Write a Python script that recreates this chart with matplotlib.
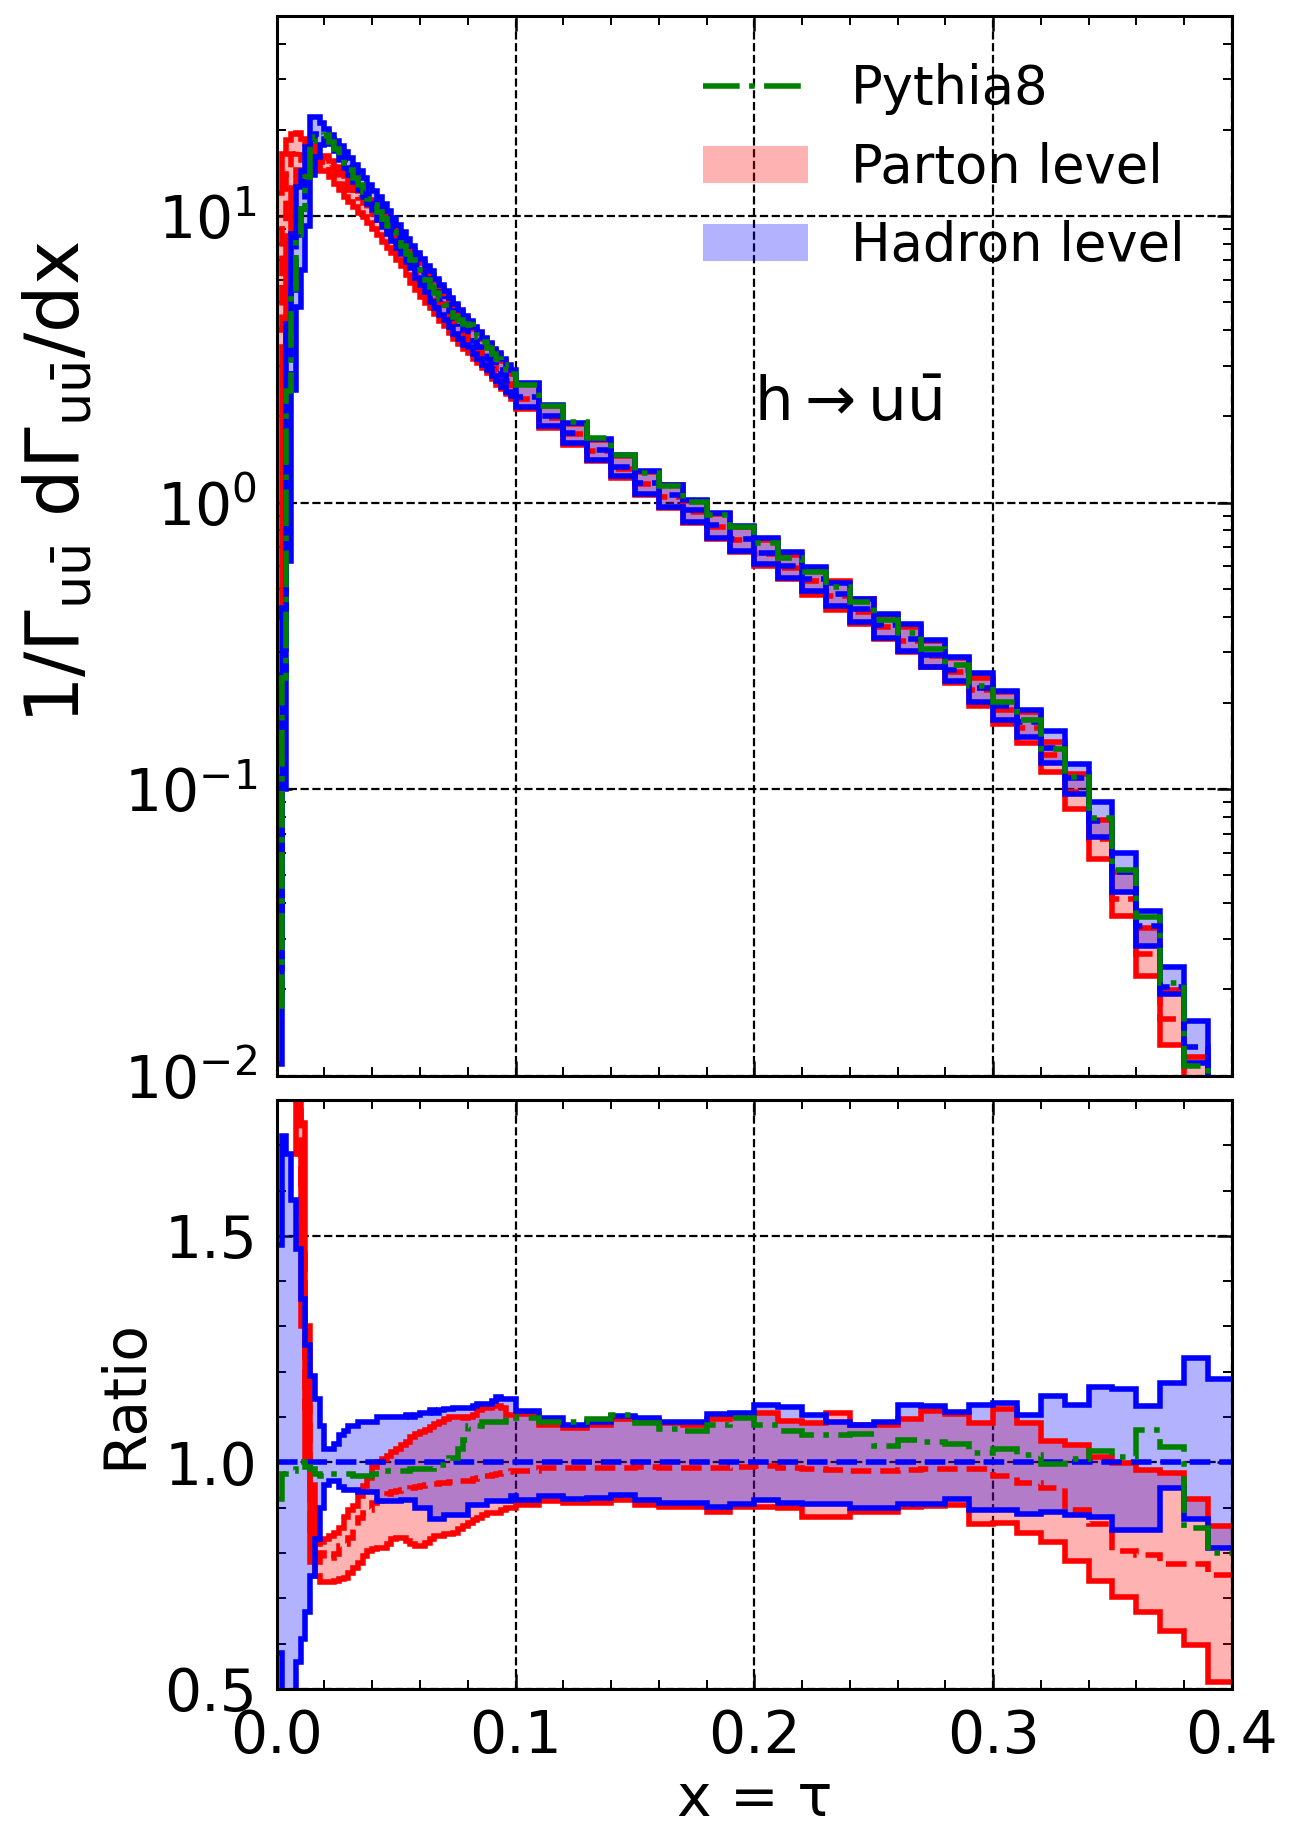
import numpy as np
import matplotlib.pyplot as plt
from matplotlib.ticker import MultipleLocator
from matplotlib.patches import Patch
from matplotlib.lines import Line2D

# bins: 0.002 wide up to 0.1, then 0.01 wide up to 0.4
edges = np.concatenate([np.linspace(0.0, 0.1, 51), np.linspace(0.11, 0.4, 30)])

# hadron level central value, 1/G dG/dx
hadron = np.array([
    0.019, 0.25, 2.5, 5.5, 8.6, 10.6, 13.8, 18.6, 19.4, 19.6,
    19.6, 18.6, 17.6, 16.6, 15.7, 14.8, 14.0, 13.2, 12.5, 11.8,
    11.2, 10.6, 10.0, 9.45, 8.95, 8.45, 8.0, 7.55, 7.15, 6.75,
    6.4, 6.05, 5.75, 5.45, 5.15, 4.9, 4.65, 4.4, 4.2, 4.0,
    3.85, 3.65, 3.5, 3.33, 3.18, 3.03, 2.9, 2.78, 2.66, 2.55,
    2.34, 2.0, 1.75, 1.53, 1.33, 1.17, 1.06, 0.94, 0.835, 0.747,
    0.666, 0.60, 0.54, 0.48, 0.425, 0.375, 0.335, 0.295, 0.26, 0.225,
    0.195, 0.171, 0.139, 0.109, 0.0774, 0.0516, 0.0334, 0.0204, 0.0126, 0.006])

# everything else as ratio to the hadron central value
hadron_hi_ratio = np.array([
    1.48, 1.72, 1.68, 1.58, 1.47, 1.36, 1.26, 1.19, 1.14, 1.08,
    1.03, 1.03, 1.04, 1.06, 1.07, 1.08, 1.08, 1.09, 1.09, 1.09,
    1.09, 1.10, 1.10, 1.10, 1.10, 1.10, 1.10, 1.105, 1.10, 1.105,
    1.11, 1.11, 1.115, 1.11, 1.115, 1.117, 1.117, 1.12, 1.12, 1.12,
    1.12, 1.125, 1.13, 1.13, 1.13, 1.135, 1.145, 1.14, 1.14, 1.14,
    1.114, 1.098, 1.082, 1.09, 1.102, 1.098, 1.09, 1.09, 1.106, 1.11,
    1.127, 1.123, 1.104, 1.09, 1.082, 1.09, 1.127, 1.125, 1.112, 1.127,
    1.131, 1.104, 1.147, 1.127, 1.167, 1.163, 1.124, 1.175, 1.231, 1.183])

hadron_lo_ratio = np.array([
    0.58, 0.40, 0.25, 0.45, 0.56, 0.61, 0.67, 0.75, 0.83, 0.90,
    0.95, 0.96, 0.96, 0.945, 0.94, 0.94, 0.94, 0.935, 0.935, 0.935,
    0.935, 0.915, 0.915, 0.915, 0.915, 0.915, 0.918, 0.918, 0.918, 0.90,
    0.90, 0.90, 0.875, 0.875, 0.875, 0.884, 0.884, 0.884, 0.884, 0.884,
    0.905, 0.905, 0.905, 0.905, 0.914, 0.914, 0.914, 0.914, 0.914, 0.926,
    0.918, 0.926, 0.92, 0.922, 0.929, 0.918, 0.91, 0.91, 0.902, 0.908,
    0.918, 0.91, 0.908, 0.908, 0.90, 0.90, 0.908, 0.908, 0.92, 0.894,
    0.894, 0.886, 0.89, 0.885, 0.88, 0.85, 0.85, 0.943, 0.876, 0.81])

parton_hi_ratio = np.array([
    632.0, 66.0, 7.4, 3.53, 2.26, 1.75, 1.30, 0.95, 0.82, 0.825,
    0.83, 0.837, 0.845, 0.856, 0.88, 0.895, 0.904, 0.926, 0.948, 0.965,
    0.99, 1.0, 1.007, 1.015, 1.022, 1.03, 1.038, 1.045, 1.055, 1.063,
    1.068, 1.072, 1.079, 1.085, 1.09, 1.095, 1.10, 1.10, 1.10, 1.098,
    1.10, 1.105, 1.115, 1.121, 1.121, 1.125, 1.125, 1.12, 1.104, 1.104,
    1.106, 1.083, 1.076, 1.082, 1.096, 1.094, 1.087, 1.082, 1.096, 1.102,
    1.109, 1.092, 1.086, 1.109, 1.082, 1.082, 1.096, 1.114, 1.106, 1.086,
    1.117, 1.086, 1.047, 1.039, 1.012, 0.998, 0.983, 0.976, 0.919, 0.86])

parton_ratio = np.array([
    210.0, 38.0, 5.6, 3.0, 1.98, 1.48, 1.12, 0.85, 0.78, 0.80,
    0.786, 0.79, 0.797, 0.815, 0.82, 0.834, 0.86, 0.878, 0.889, 0.895,
    0.911, 0.915, 0.922, 0.93, 0.935, 0.937, 0.94, 0.94, 0.943, 0.945,
    0.948, 0.95, 0.952, 0.952, 0.955, 0.955, 0.957, 0.958, 0.96, 0.96,
    0.96, 0.963, 0.966, 0.969, 0.97, 0.972, 0.975, 0.977, 0.978, 0.98,
    0.981, 0.988, 0.988, 0.988, 0.988, 0.989, 0.988, 0.988, 0.988, 0.989,
    0.992, 0.988, 0.986, 0.984, 0.98, 0.981, 0.984, 0.986, 0.986, 0.986,
    0.971, 0.955, 0.943, 0.894, 0.865, 0.804, 0.796, 0.775, 0.775, 0.751])

parton_lo_ratio = np.array([
    21.0, 14.0, 3.4, 2.27, 1.68, 1.30, 1.00, 0.78, 0.75, 0.735,
    0.735, 0.735, 0.738, 0.742, 0.745, 0.756, 0.767, 0.778, 0.793, 0.804,
    0.808, 0.812, 0.812, 0.819, 0.83, 0.834, 0.834, 0.826, 0.82, 0.815,
    0.815, 0.823, 0.83, 0.837, 0.837, 0.841, 0.841, 0.845, 0.852, 0.86,
    0.867, 0.872, 0.878, 0.885, 0.889, 0.889, 0.889, 0.895, 0.90, 0.90,
    0.906, 0.914, 0.91, 0.91, 0.918, 0.906, 0.902, 0.902, 0.891, 0.902,
    0.902, 0.90, 0.88, 0.88, 0.89, 0.89, 0.902, 0.904, 0.906, 0.865,
    0.866, 0.845, 0.824, 0.783, 0.739, 0.702, 0.669, 0.628, 0.596, 0.516])

pythia_ratio = np.array([
    0.92, 0.975, 0.98, 0.98, 1.0, 1.0, 0.99, 0.985, 0.975, 0.97,
    0.975, 0.975, 0.975, 0.975, 0.975, 0.975, 0.97, 0.97, 0.97, 0.97,
    0.975, 0.975, 0.98, 0.98, 0.98, 0.98, 0.98, 0.98, 0.985, 0.985,
    0.985, 0.985, 0.985, 0.99, 0.995, 0.995, 1.01, 1.01, 1.03, 1.05,
    1.08, 1.08, 1.08, 1.09, 1.09, 1.09, 1.09, 1.09, 1.10, 1.10,
    1.098, 1.09, 1.09, 1.096, 1.104, 1.086, 1.074, 1.07, 1.082, 1.098,
    1.082, 1.07, 1.061, 1.061, 1.063, 1.037, 1.049, 1.045, 1.041, 1.02,
    1.03, 1.016, 0.996, 1.008, 1.025, 1.012, 1.072, 1.035, 0.855, 0.80])

LW = 2.0
FS = 21
DASHDOT = (0, (6.6, 1.7, 1.0, 1.7))

plt.rcParams['mathtext.default'] = 'regular'

fig = plt.figure(figsize=(6.46, 9.18), dpi=200)
ax1 = fig.add_axes([0.2142, 0.4141, 0.7392, 0.5773])
ax2 = fig.add_axes([0.2142, 0.0801, 0.7392, 0.3208])


def draw_fills(ax, lo, hi, color):
    ax.stairs(hi, edges, baseline=lo, fill=True, facecolor=color,
              edgecolor='none', alpha=0.3, lw=0)


def draw_lines(ax, lo, mid, hi, color):
    ax.stairs(lo, edges, baseline=None, color=color, lw=LW)
    ax.stairs(hi, edges, baseline=None, color=color, lw=LW)
    ax.stairs(mid, edges, baseline=None, color=color, lw=LW, ls='--')


bands_top = [(hadron * parton_lo_ratio, hadron * parton_ratio,
              hadron * parton_hi_ratio, 'red'),
             (hadron * hadron_lo_ratio, hadron,
              hadron * hadron_hi_ratio, 'blue')]
bands_ratio = [(parton_lo_ratio, parton_ratio, parton_hi_ratio, 'red'),
               (hadron_lo_ratio, hadron / hadron, hadron_hi_ratio, 'blue')]

for ax, bands, py in [(ax1, bands_top, hadron * pythia_ratio),
                      (ax2, bands_ratio, pythia_ratio)]:
    for lo, mid, hi, c in bands:
        draw_fills(ax, lo, hi, c)
    for lo, mid, hi, c in bands:
        draw_lines(ax, lo, mid, hi, c)
    ax.stairs(py, edges, baseline=None, color='green', lw=LW, ls=DASHDOT)

ax1.set_yscale('log')
ax1.set_ylim(1e-2, 50)
ax2.set_ylim(0.5, 1.8)
ax2.yaxis.set_major_locator(MultipleLocator(0.5))
ax2.yaxis.set_minor_locator(MultipleLocator(0.1))

for ax in (ax1, ax2):
    ax.set_xlim(0, 0.4)
    ax.xaxis.set_major_locator(MultipleLocator(0.1))
    ax.xaxis.set_minor_locator(MultipleLocator(0.02))
    ax.tick_params(which='both', direction='in', top=True, right=True,
                   labelsize=FS, pad=7)
    ax.tick_params(which='major', length=5.4, width=0.9)
    ax.tick_params(which='minor', length=3.4, width=0.7)
    for sp in ax.spines.values():
        sp.set_linewidth(1.1)
    ax.set_axisbelow(True)
    ax.grid(True, which='major', color='k', ls='--', lw=0.8)

ax1.tick_params(labelbottom=False)

ax1.set_ylabel(r'1/$\Gamma_{u\bar{u}}$ d$\Gamma_{u\bar{u}}$/dx', fontsize=27)
ax1.yaxis.set_label_coords(-0.19, 0.56)
ax2.set_ylabel('Ratio', fontsize=FS)
ax2.set_xlabel('x = τ', fontsize=FS, labelpad=2)

ax1.text(0.2, 1.92, r'h$\rightarrow$u$\bar{u}$', fontsize=22)

handles = [Line2D([], [], color='green', lw=LW, ls=DASHDOT),
           Patch(facecolor='red', alpha=0.3),
           Patch(facecolor='blue', alpha=0.3)]
ax1.legend(handles, ['Pythia8', 'Parton level', 'Hadron level'],
           loc='upper right', frameon=False, fontsize=19, labelspacing=0.5)

fig.savefig('out.png', dpi=200)
